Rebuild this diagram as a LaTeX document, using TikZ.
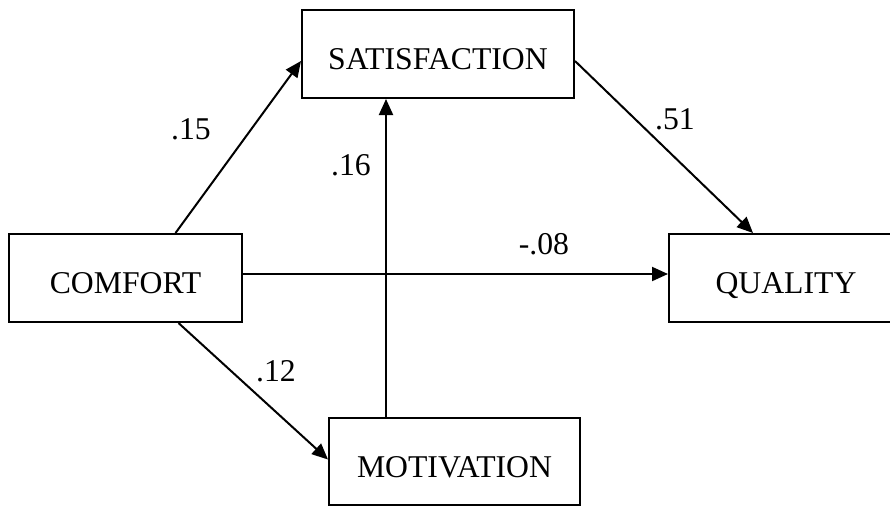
\documentclass[tikz,border=0pt]{standalone}
\usepackage{fontspec}
\setmainfont{Liberation Serif}
\usetikzlibrary{arrows.meta}
\begin{document}
\begin{tikzpicture}[x=1pt,y=-1pt,
  every node/.style={font=\fontsize{31.7}{38}\selectfont},
  varbox/.style={draw,line width=2pt,minimum height=88pt,inner sep=0pt,
    text height=31pt,text depth=0pt,anchor=center},
  path/.style={line width=2pt,-{Triangle[length=16pt,width=14pt]}},
  coef/.style={inner sep=0pt,anchor=center}]
\useasboundingbox (0,0) rectangle (890,506);
\clip (0,0) rectangle (890,506);
\node[varbox,minimum width=272pt] (sat) at (438,54) {SATISFACTION};
\node[varbox,minimum width=233pt] (com) at (125.5,278) {COMFORT};
\node[varbox,minimum width=234pt] (qual) at (786,278) {QUALITY};
\node[varbox,minimum width=251pt,minimum height=87pt] (mot) at (454.5,461.5) {MOTIVATION};
\draw[path] ([xshift=50pt]com.north) -- ([yshift=-7pt]sat.west);
\draw[path] ([yshift=-7pt]sat.east) -- ([xshift=-33pt]qual.north);
\draw[path] ([yshift=4pt]com.east) -- ([yshift=4pt]qual.west);
\draw[path] ([xshift=53pt]com.south) -- ([yshift=2pt]mot.west);
\coordinate (mtop) at ([xshift=-68.5pt]mot.north);
\draw[path] (mtop) -- (mtop |- sat.south);
\node[coef] (c15) at (191,129) {.15};
\node[coef] (c16) at (351,165) {.16};
\node[coef] (c51) at (675,119) {.51};
\node[coef] (c08) at (544,244) {-.08};
\node[coef] (c12) at (276,371) {.12};
\end{tikzpicture}
\end{document}
